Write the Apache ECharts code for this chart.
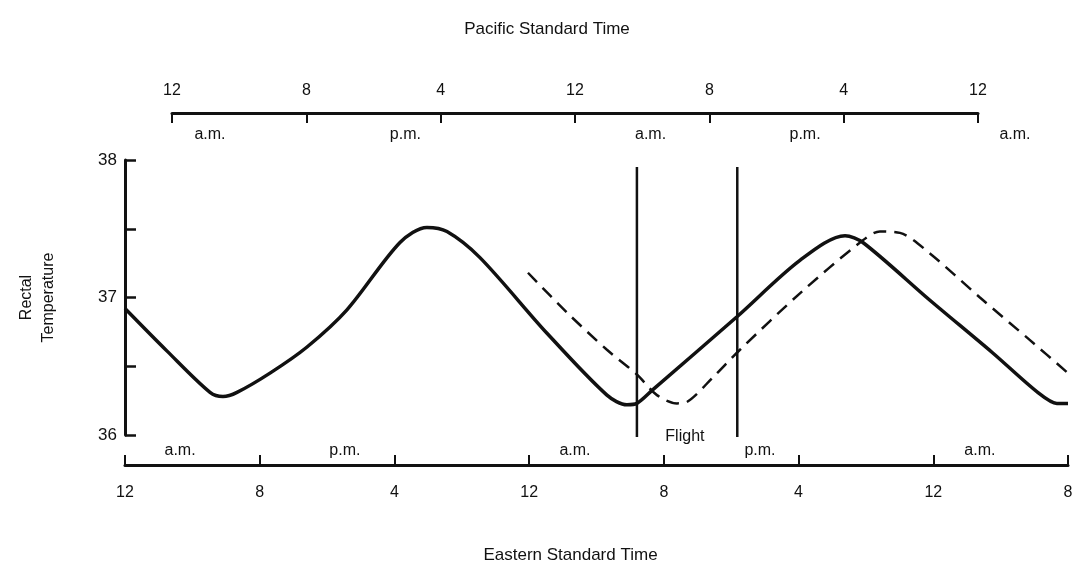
<!DOCTYPE html>
<html lang="en">
<head>
    <meta charset="UTF-8">
    <title>Rectal Temperature</title>
    <script src="https://cdn.jsdelivr.net/npm/echarts@6/dist/echarts.min.js"></script>
</head>
<style>
    * {
        margin: 0px;
        padding: 0px;
    }
    html , body {
        width: 100%;
        height: 100%;
        overflow: hidden;
        background: #fff;
    }
    .container{
        width: 1076px;
        height: 568px;
    }
</style>
<body>
    <div class="container"></div>
</body>
<script>
    // hours since 12 a.m. EST, temperature
    let solidHours = [0, 2.5, 5.05, 5.82, 6.65, 8.61, 10.81, 13.18, 16.33, 17.93, 19.12, 21.08, 25.06, 28.62, 29.81, 30.4, 31.35, 36.34, 40.08, 42.76, 43.82, 47.8, 51.5, 54.2, 55.34, 56];
    let solidTemps = [36.92, 36.61, 36.31, 36.28, 36.31, 36.45, 36.64, 36.91, 37.4, 37.51, 37.48, 37.29, 36.74, 36.29, 36.22, 36.23, 36.33, 36.86, 37.27, 37.45, 37.4, 36.98, 36.6, 36.31, 36.23, 36.23];

    let dashedHours = [23.93, 26.25, 28.62, 30.4, 31.59, 32.78, 33.37, 34.92, 36.52, 40.08, 43.65, 44.83, 46.02, 47.8, 50.77, 53.74, 56];
    let dashedTemps = [37.18, 36.89, 36.62, 36.44, 36.29, 36.23, 36.24, 36.42, 36.62, 37.03, 37.4, 37.48, 37.47, 37.32, 37.0, 36.69, 36.45];

    let flightHours = [30.4, 36.36];
    let flightTemps = [37.95, 35.985];

    // a.m./p.m. markers along the EST axis
    let estMarkHours = [3.27, 13.06, 26.72, 37.71, 50.77];
    let estMarkText = ['a.m.', 'p.m.', 'a.m.', 'p.m.', 'a.m.'];
    let flightLabel = {hour: 33.25, temp: 35.99, text: 'Flight'};

    // a.m./p.m. markers along the PST axis (hours since 12 a.m. PST)
    let pstMarkHours = [2.26, 13.9, 28.5, 37.7, 50.2];
    let pstMarkText = ['a.m.', 'p.m.', 'a.m.', 'p.m.', 'a.m.'];

    let font = 'Liberation Sans, Arial, sans-serif';
    let ink = '#111';

    let container = document.querySelector('.container');
    let mycharts = echarts.init(container);

    function clock(v) {
        return String((v % 12) || 12);
    }

    let zip = (xs, ys) => xs.map((x, i) => [x, ys[i]]);

    let markLabel = {
        show: true,
        position: 'inside',
        formatter: p => p.name,
        color: ink,
        fontFamily: font,
        fontSize: 16
    };

    let series = [
        {
            type: 'line',
            data: zip(solidHours, solidTemps),
            smooth: 0.3,
            symbol: 'none',
            lineStyle: {color: ink, width: 3.5}
        },
        {
            type: 'line',
            data: zip(dashedHours, dashedTemps),
            smooth: 0.3,
            symbol: 'none',
            lineStyle: {color: ink, width: 2.5, type: [13, 8]}
        }
    ];
    flightHours.forEach(h => {
        series.push({
            type: 'line',
            data: flightTemps.map(t => [h, t]),
            symbol: 'none',
            clip: false,
            lineStyle: {color: ink, width: 2.5}
        });
    });
    series.push({
        type: 'scatter',
        symbolSize: 0,
        clip: false,
        itemStyle: {opacity: 1},
        data: estMarkHours.map((h, i) => ({value: [h, 35.89], name: estMarkText[i]}))
            .concat([{value: [flightLabel.hour, flightLabel.temp], name: flightLabel.text}]),
        label: markLabel
    });
    series.push({
        type: 'scatter',
        xAxisIndex: 1,
        yAxisIndex: 1,
        symbolSize: 0,
        clip: false,
        itemStyle: {opacity: 1},
        data: pstMarkHours.map((h, i) => ({value: [h, 0.27], name: pstMarkText[i]})),
        label: markLabel
    });

    let option = {
        animation: false,
        backgroundColor: '#fff',
        grid: [
            {left: 125, right: 8, top: 160, bottom: 133, outerBoundsMode: 'none'},
            {left: 172, right: 98, top: 113, height: 30, outerBoundsMode: 'none'}
        ],
        xAxis: [
            {
                type: 'value',
                gridIndex: 0,
                min: 0,
                max: 56,
                interval: 8,
                offset: 30,
                name: 'Eastern Standard Time',
                nameLocation: 'middle',
                nameGap: 82,
                nameTextStyle: {color: ink, fontFamily: font, fontSize: 17, padding: [0, 52, 0, 0]},
                splitLine: {show: false},
                axisLine: {onZero: false, lineStyle: {color: ink, width: 3}},
                axisTick: {inside: true, length: 10, lineStyle: {color: ink, width: 2}},
                axisLabel: {color: ink, fontFamily: font, fontSize: 16, margin: 20, formatter: clock}
            },
            {
                type: 'value',
                gridIndex: 1,
                position: 'top',
                min: 0,
                max: 48,
                interval: 8,
                name: 'Pacific Standard Time',
                nameLocation: 'middle',
                nameGap: 75,
                nameTextStyle: {color: ink, fontFamily: font, fontSize: 17, padding: [0, 56, 0, 0]},
                splitLine: {show: false},
                axisLine: {onZero: false, lineStyle: {color: ink, width: 3}},
                axisTick: {inside: true, length: 10, lineStyle: {color: ink, width: 2}},
                axisLabel: {color: ink, fontFamily: font, fontSize: 16, margin: 14, formatter: clock}
            }
        ],
        yAxis: [
            {
                type: 'value',
                gridIndex: 0,
                min: 36,
                max: 38,
                interval: 0.5,
                name: 'Rectal\nTemperature',
                nameLocation: 'middle',
                nameRotate: 90,
                nameGap: 65,
                nameTextStyle: {color: ink, fontFamily: font, fontSize: 16, lineHeight: 22},
                splitLine: {show: false},
                axisLine: {show: true, onZero: false, lineStyle: {color: ink, width: 3}},
                axisTick: {show: true, inside: true, length: 11, lineStyle: {color: ink, width: 2.5}},
                axisLabel: {
                    color: ink, fontFamily: font, fontSize: 17, margin: 8,
                    formatter: v => (v % 1 === 0 ? String(v) : '')
                }
            },
            {
                type: 'value',
                gridIndex: 1,
                min: 0,
                max: 1,
                show: false
            }
        ],
        series
    };
    mycharts.setOption(option);
</script>
</html>
